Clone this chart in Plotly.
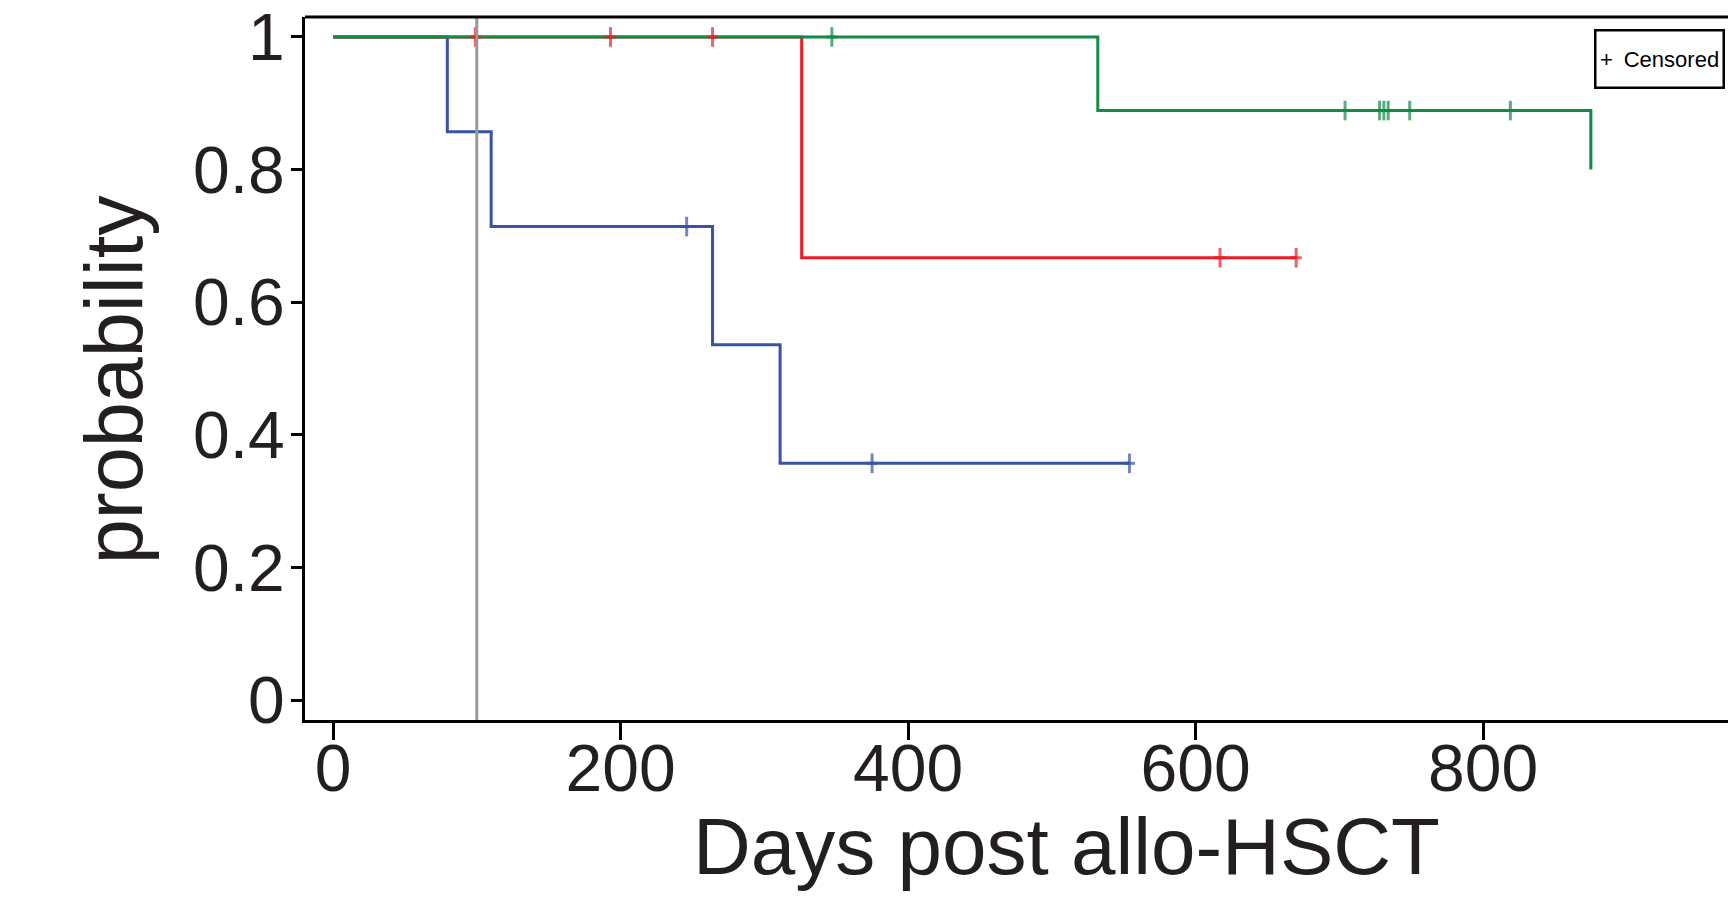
import plotly.graph_objects as go

# Kaplan-Meier step curves: change-point times (days) and survival after each change
blue_times = [0, 79.5, 110, 264, 311, 554]
blue_surv = [1.0, 0.857, 0.714, 0.536, 0.357, 0.357]
blue_censor = [246, 375, 554]

red_times = [0, 326, 670]
red_surv = [1.0, 0.667, 0.667]
red_censor = [99, 193, 264, 617, 670]

green_times = [0, 532, 875]
green_surv = [1.0, 0.889, 0.8]
green_censor = [347, 704, 728, 731, 734, 749, 819]

landmark_day = 100

x_ticks = [0, 200, 400, 600, 800]
y_ticks = [0, 0.2, 0.4, 0.6, 0.8, 1]
y_tick_text = ["0", "0.2", "0.4", "0.6", "0.8", "1"]

BLUE = "#3953a4"
RED = "#ed1c24"
GREEN = "#138a48"
INK = "#231f20"
FONT = "Liberation Sans, Arial, Helvetica, sans-serif"


def surv_at(t, times, surv):
    """Value of the step function at time t (right-continuous)."""
    s = surv[0]
    for ti, si in zip(times, surv):
        if ti <= t:
            s = si
    return s


fig = go.Figure()

groups = [
    (blue_times, blue_surv, blue_censor, BLUE),
    (red_times, red_surv, red_censor, RED),
    (green_times, green_surv, green_censor, GREEN),
]

for times, surv, _, color in groups:
    fig.add_trace(go.Scatter(
        x=times, y=surv, mode="lines",
        line=dict(color=color, width=3, shape="hv"),
        hoverinfo="skip", showlegend=False,
    ))

for times, surv, cens, color in groups:
    ys = [surv_at(t, times, surv) for t in cens]
    n = len(cens)
    fig.add_trace(go.Scatter(
        x=cens + cens, y=ys + ys, mode="markers",
        marker=dict(symbol=["line-ns"] * n + ["line-ew"] * n,
                    size=[14] * n + [8] * n,
                    line=dict(color=color, width=3)),
        hoverinfo="skip", showlegend=False,
    ))

# landmark line at day 100
fig.add_shape(type="line", xref="x", yref="paper",
              x0=landmark_day, x1=landmark_day, y0=0, y1=1,
              line=dict(color="#999999", width=3), layer="above")
# top frame line
fig.add_shape(type="line", xref="paper", yref="paper",
              x0=0, x1=1, y0=1, y1=1,
              line=dict(color="black", width=3))

# axis titles
fig.add_annotation(text="Days post allo-HSCT", xref="paper", yref="paper",
                   x=0.5348, y=-0.18, xanchor="center", yanchor="middle",
                   showarrow=False, font=dict(family=FONT, size=80, color=INK))
fig.add_annotation(text="probability", xref="paper", yref="paper",
                   x=-0.134, y=0.485, xanchor="center", yanchor="middle",
                   textangle=-90, showarrow=False,
                   font=dict(family=FONT, size=81, color=INK))

# censor key
fig.add_annotation(text="+\u2002Censored", xref="paper", yref="paper",
                   x=0.9522, y=0.9397, xanchor="center", yanchor="middle",
                   showarrow=False, width=124, height=53,
                   bordercolor="black", borderwidth=2.5, borderpad=1,
                   bgcolor="white",
                   font=dict(family=FONT, size=22, color="black"))

fig.update_layout(
    width=1728, height=897,
    margin=dict(l=305, r=0, t=15, b=177),
    paper_bgcolor="white", plot_bgcolor="white",
    showlegend=False,
)
fig.update_xaxes(
    range=[-19.5, 970.4], tickvals=x_ticks,
    showline=True, linecolor="black", linewidth=3,
    ticks="outside", ticklen=17, tickwidth=2.6, tickcolor="black",
    showgrid=False, zeroline=False, ticklabelstandoff=-28,
    ticklabeloverflow="allow",
    tickfont=dict(family=FONT, size=66, color=INK),
)
fig.update_yaxes(
    range=[-0.0301, 1.0301], tickvals=y_ticks, ticktext=y_tick_text,
    showline=True, linecolor="black", linewidth=3,
    ticks="outside", ticklen=11, tickwidth=2.6, tickcolor="black",
    showgrid=False, zeroline=False, ticklabelstandoff=-7,
    ticklabeloverflow="allow",
    tickfont=dict(family=FONT, size=66, color=INK),
)

fig.write_html("out.html")
